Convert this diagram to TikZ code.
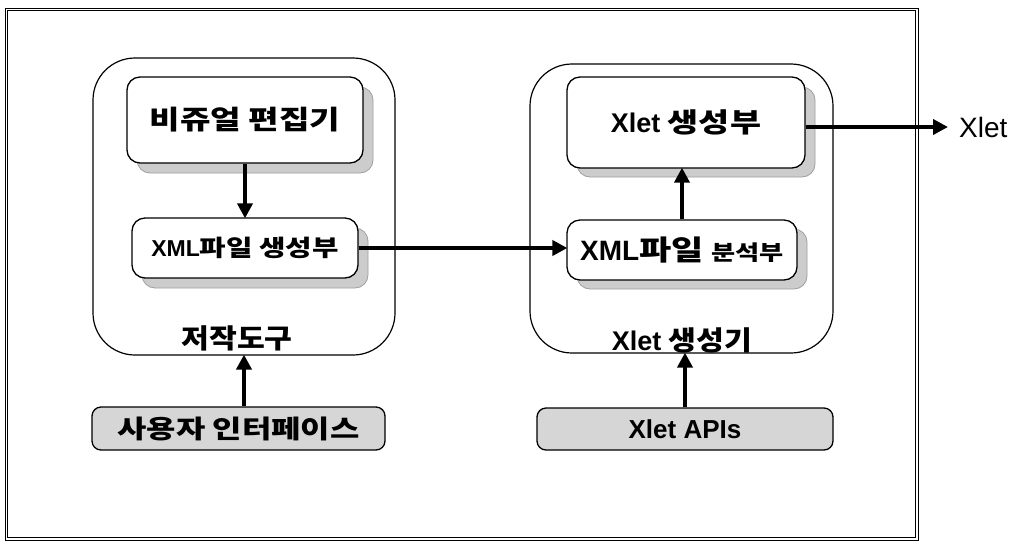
\documentclass[tikz,border=0pt]{standalone}
\usepackage{fontspec}
\setmainfont{Liberation Sans}
\newfontfamily\kr{Noto Sans CJK KR}[FakeStretch=1.25]
\newfontfamily\krn{Noto Sans CJK KR}[FakeStretch=1.12]
\usetikzlibrary{arrows.meta}
\newcommand{\fs}[1]{\fontsize{#1}{#1}\selectfont}
\definecolor{shadowgray}{gray}{0.80}
\definecolor{boxgray}{gray}{0.84}
\tikzset{
  frame/.style={draw=black, line width=0.9pt, double=white, double distance=1.6pt},
  container/.style={draw=black, line width=1.2pt, rounded corners=42pt, inner sep=0pt},
  unit/.style={draw=black, line width=1.3pt, fill=white, rounded corners=13pt, inner sep=0pt},
  shade/.style={draw=gray!75, line width=0.8pt, fill=shadowgray, rounded corners=13pt},
  inbox/.style={draw=black, line width=1.3pt, fill=boxgray, rounded corners=9pt, inner sep=0pt},
  flow/.style={line width=4.4pt, -{Triangle[length=15pt,width=15pt]}, shorten >=-1pt},
  lbl/.style={inner sep=0pt}
}
\begin{document}
\begin{tikzpicture}[x=1pt,y=-1pt]
\useasboundingbox (0,0) rectangle (1015,542);
\fill[white] (0,0) rectangle (1015,542);
% outer frame
\draw[frame] (6.5,9.5) rectangle (917,539);

% containers
\node[container, minimum width=302pt, minimum height=297pt] (cl) at (244,206.5) {};
\node[container, minimum width=303pt, minimum height=289pt] (cr) at (681.5,208.5) {};

% shadows
\fill[shade] (137,87) rectangle (373,173);
\fill[shade] (142,228) rectangle (368,288);
\fill[shade] (577,87) rectangle (815,177);
\fill[shade] (577,229) rectangle (807,289);

% inner units
\node[unit, minimum width=236pt, minimum height=86pt] (ve) at (245,120)
  {\kr\bfseries\fs{26.5}비쥬얼 편집기};
\node[unit, minimum width=226pt, minimum height=60pt] (xg) at (245,248)
  {\bfseries\fs{23}XML{\kr 파일 생성부}};
\node[unit, minimum width=238pt, minimum height=91pt] (xlg) at (686,122.5)
  {\bfseries\fs{27}Xlet {\kr\fs{27}생성부}};
\node[unit, minimum width=230pt, minimum height=60pt] (xa) at (682,250)
  {\bfseries\fs{28}XML{\kr 파일} {\kr\fs{21}분석부}};

% container labels
\node[lbl] (lt) at (237,338) {\krn\bfseries\fs{27}저작도구};
\node[lbl] (rt) at (682,340) {\bfseries\fs{27}Xlet {\krn\fs{27}생성기}};

% input boxes
\node[inbox, minimum width=293pt, minimum height=43pt] (ui) at (238.5,428.5)
  {\kr\bfseries\fs{25.5}사용자 인터페이스};
\node[inbox, minimum width=296pt, minimum height=42pt] (api) at (685,429)
  {\bfseries\fs{26}Xlet APIs};

% output label
\node[lbl, anchor=west, inner xsep=12pt] (out) at (947,127) {\fs{28}Xlet};

% connectors
\draw[flow] (ve.south) -- (xg.north);
\draw[flow] (xg.east) -- (xg.east -| xa.west);
\draw[flow] (xa.north) -- (xa.north |- xlg.south);
\draw[flow] (xlg.east |- out.west) -- (out.west);
\draw[flow] (ui.north -| cl.south) -- (cl.south);
\draw[flow] (api.north) -- (api.north |- cr.south);
\end{tikzpicture}
\end{document}
